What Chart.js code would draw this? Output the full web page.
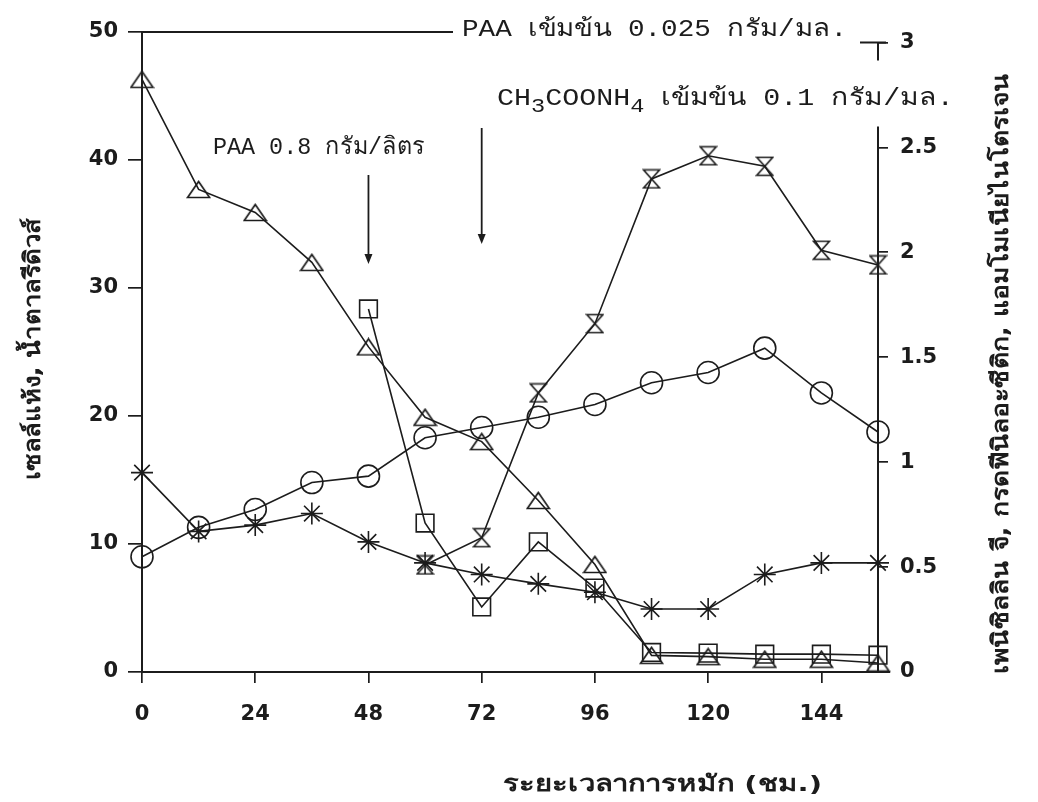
<!DOCTYPE html>
<html>
<head>
<meta charset="utf-8">
<script src="https://cdn.jsdelivr.net/npm/chart.js@4.4.1/dist/chart.umd.min.js"></script>
<style>
  html, body { margin: 0; padding: 0; background: #fff; }
  canvas { display: block; }
</style>
</head>
<body>
<canvas id="fermChart" width="1038" height="802"></canvas>
<script>
// sampling times (h)
const hours = [0, 12, 24, 36, 48, 60, 72, 84, 96, 108, 120, 132, 144, 156];

// left axis
const reducingSugar = [46.3, 37.7, 35.9, 32.0, 25.4, 19.9, 18.0, 13.4, 8.4, 1.3, 1.2, 1.0, 1.0, 0.7];
const dryCell       = [9.0, 11.3, 12.7, 14.8, 15.3, 18.3, 19.1, 19.9, 20.9, 22.6, 23.4, 25.3, 21.8, 18.75];

// right axis
const penicillinG   = [null, null, null, null, null, 0.51, 0.64, 1.33, 1.66, 2.35, 2.46, 2.41, 2.01, 1.94];
const phenylacetic  = [null, null, null, null, 1.73, 0.71, 0.31, 0.62, 0.40, 0.093, 0.09, 0.085, 0.085, 0.08];
const ammoniaN      = [0.95, 0.67, 0.70, 0.755, 0.62, 0.52, 0.465, 0.42, 0.38, 0.30, 0.30, 0.465, 0.52, 0.52];

const xTicks     = [0, 24, 48, 72, 96, 120, 144];
const leftTicks  = [0, 10, 20, 30, 40, 50];
const rightTicks = [0, 0.5, 1, 1.5, 2, 2.5, 3];

const INK = '#1c1c1c';
const MONO = '"Liberation Mono", "DejaVu Sans Mono", monospace';
const SANS = '"DejaVu Sans", "Liberation Sans", sans-serif';

// hollow marker sprites
function sprite(w, h, draw) {
  const c = document.createElement('canvas');
  c.width = w; c.height = h;
  const g = c.getContext('2d');
  g.strokeStyle = INK;
  g.lineWidth = 1.7;
  g.lineJoin = 'miter';
  draw(g, w, h);
  return c;
}
const triangleMark = sprite(25, 19, (g, w, h) => {
  g.beginPath();
  g.moveTo(1.5, h - 1.5); g.lineTo(w / 2, 1.5); g.lineTo(w - 1.5, h - 1.5); g.closePath();
  g.stroke();
});
const hourglassMark = sprite(19, 21, (g, w, h) => {
  g.beginPath();
  g.moveTo(1.5, 1.5); g.lineTo(w - 1.5, 1.5); g.lineTo(1.5, h - 1.5); g.lineTo(w - 1.5, h - 1.5); g.closePath();
  g.stroke();
});

function series(label, values, axis, style, radius) {
  return {
    label,
    data: hours.map((h, i) => ({ x: h, y: values[i] })).filter(p => p.y !== null),
    yAxisID: axis,
    borderColor: INK,
    borderWidth: 1.6,
    pointStyle: style,
    pointRadius: radius,
    pointBorderColor: INK,
    pointBorderWidth: 1.6,
    pointBackgroundColor: 'rgba(0,0,0,0)',
    tension: 0,
    clip: false
  };
}

// draw text stretched along its run so it fills a given length
function fitText(ctx, text, x, y, width, font, angle) {
  ctx.save();
  ctx.font = font;
  const sx = width / ctx.measureText(text).width;
  ctx.translate(x, y);
  if (angle) ctx.rotate(angle);
  ctx.scale(sx, 1);
  ctx.fillText(text, 0, 0);
  ctx.restore();
}

function seg(ctx, x0, y0, x1, y1) {
  ctx.beginPath(); ctx.moveTo(x0, y0); ctx.lineTo(x1, y1); ctx.stroke();
}

function arrow(ctx, x, y0, y1) {
  seg(ctx, x, y0, x, y1 - 6);
  ctx.beginPath();
  ctx.moveTo(x - 4, y1 - 10); ctx.lineTo(x + 4, y1 - 10); ctx.lineTo(x, y1); ctx.closePath();
  ctx.fill();
}

const overlay = {
  id: 'overlay',
  afterDraw(chart) {
    const { ctx, chartArea: a, scales: { x, y1 } } = chart;
    ctx.save();
    ctx.strokeStyle = INK;
    ctx.fillStyle = INK;
    ctx.lineWidth = 2;

    // top frame line, stops where the header text starts
    seg(ctx, a.left - 1, a.top, 453, a.top);

    // right axis, broken behind the ammonium acetate label
    seg(ctx, a.right, y1.getPixelForValue(2.6), a.right, a.bottom + 1);
    const top3 = y1.getPixelForValue(3);
    seg(ctx, a.right - 18, top3, a.right + 8, top3);
    seg(ctx, a.right, top3, a.right, top3 + 18);
    seg(ctx, a.right, a.bottom, a.right + 12, a.bottom);

    // feeding arrows
    ctx.lineWidth = 1.8;
    arrow(ctx, x.getPixelForValue(48), 175, 264);
    arrow(ctx, x.getPixelForValue(72), 128, 244);

    // annotations
    ctx.textBaseline = 'alphabetic';
    ctx.textAlign = 'left';
    fitText(ctx, 'PAA เข้มข้น 0.025 กรัม/มล.', 462, 36, 385, '24px ' + MONO);
    fitText(ctx, 'PAA 0.8 กรัม/ลิตร', 213, 154, 212, '24px ' + MONO);

    // CH3COONH4 with subscripts
    const sx = 1.18;
    let cx = 497;
    const base = 105;
    const parts = [
      ['CH', 0, 24], ['3', 7, 20], ['COONH', 0, 24], ['4', 7, 20], [' เข้มข้น 0.1 กรัม/มล.', 0, 24]
    ];
    for (const [t, dy, size] of parts) {
      ctx.save();
      ctx.font = size + 'px ' + MONO;
      const w = ctx.measureText(t).width * sx;
      ctx.translate(cx, base + dy);
      ctx.scale(sx, 1);
      ctx.fillText(t, 0, 0);
      ctx.restore();
      cx += w;
    }

    // axis titles
    fitText(ctx, 'ระยะเวลาการหมัก (ชม.)', 503, 791, 319, 'bold 22px ' + SANS);
    fitText(ctx, 'เซลล์แห้ง, น้ำตาลรีดิวส์', 40, 480, 262, 'bold 23px ' + SANS, -Math.PI / 2);
    fitText(ctx, 'เพนิซิลลิน จี, กรดฟีนิลอะซีติก, แอมโมเนียไนโตรเจน', 1008, 674, 600, 'bold 23px ' + SANS, -Math.PI / 2);
    ctx.restore();
  }
};

const tickFont = { family: SANS, weight: 'bold', size: 21 };
const axisGrid = { drawOnChartArea: false, color: INK, lineWidth: 1.7 };

new Chart(document.getElementById('fermChart').getContext('2d'), {
  type: 'line',
  data: {
    datasets: [
      series('น้ำตาลรีดิวส์', reducingSugar, 'y', triangleMark, 10),
      series('เซลล์แห้ง', dryCell, 'y', 'circle', 11),
      series('เพนิซิลลิน จี', penicillinG, 'y1', hourglassMark, 10),
      series('กรดฟีนิลอะซีติก', phenylacetic, 'y1', 'rect', 12.5),
      series('แอมโมเนียไนโตรเจน', ammoniaN, 'y1', 'star', 11)
    ]
  },
  options: {
    responsive: false,
    animation: false,
    layout: { padding: { top: 32, left: 0, right: 0, bottom: 0 } },
    plugins: { legend: { display: false }, tooltip: { enabled: false } },
    scales: {
      x: {
        type: 'linear', min: 0, max: 156,
        afterBuildTicks: s => { s.ticks = xTicks.map(v => ({ value: v })); },
        afterFit: s => { s.height = 130; },
        ticks: { font: tickFont, color: INK, padding: 19, maxRotation: 0 },
        grid: { ...axisGrid, tickLength: 11 },
        border: { color: INK, width: 2 }
      },
      y: {
        position: 'left', min: 0, max: 50,
        afterBuildTicks: s => { s.ticks = leftTicks.map(v => ({ value: v })); },
        afterFit: s => { s.width = 142; },
        ticks: { font: tickFont, color: INK, padding: 10 },
        grid: { ...axisGrid, tickLength: 14 },
        border: { color: INK, width: 2 }
      },
      y1: {
        position: 'right', min: 0, max: 3.05,
        afterBuildTicks: s => { s.ticks = rightTicks.map(v => ({ value: v })); },
        afterFit: s => { s.width = 160; },
        ticks: { font: tickFont, color: INK, padding: 12, callback: v => String(v) },
        grid: { ...axisGrid, tickLength: 10 },
        border: { display: false }
      }
    }
  },
  plugins: [overlay]
});
</script>
</body>
</html>
